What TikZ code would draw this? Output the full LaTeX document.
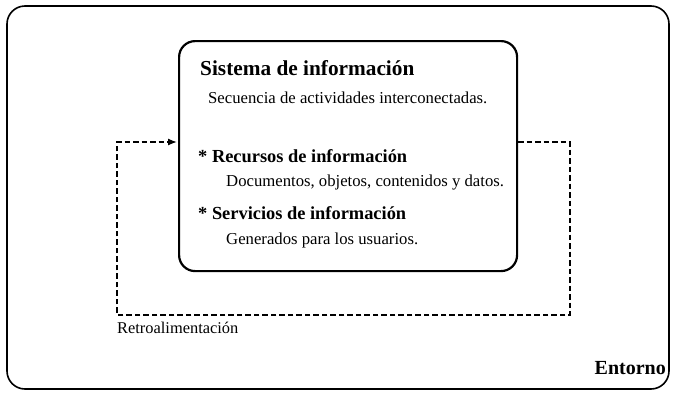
\documentclass[tikz,border=0pt]{standalone}
\usepackage{fontspec}
\setmainfont{Liberation Serif}
\usetikzlibrary{arrows.meta}
\begin{document}
\begin{tikzpicture}[x=1pt,y=-1pt,
  frame/.style={draw=black,line width=1.6pt,rounded corners=18pt},
  sysbox/.style={draw=black,line width=2.2pt,rounded corners=16pt},
  loop/.style={draw=black,line width=1.3pt,dash pattern=on 5.5pt off 3pt},
  title/.style={anchor=base west,inner sep=0pt,font=\bfseries\fontsize{21.3}{24}\selectfont},
  head/.style={anchor=base west,inner sep=0pt,font=\bfseries\fontsize{18.4}{21}\selectfont},
  body/.style={anchor=base west,inner sep=0pt,font=\fontsize{16.7}{19}\selectfont}]
\useasboundingbox (0,0) rectangle (675,394);
\path[frame] (7,6) rectangle (669,389);
\node[minimum width=338pt,minimum height=230pt,anchor=north west,inner sep=0pt,sysbox] (sys) at (178,40) {};
\node[title] (t1) at (200,75) {Sistema de información};
\node[body] (t2) at (208,103) {Secuencia de actividades interconectadas.};
\node[head] (t3) at (198,162) {* Recursos de información};
\node[body] (t4) at (226,186) {Documentos, objetos, contenidos y datos.};
\node[head] (t5) at (198,219) {* Servicios de información};
\node[body] (t6) at (226,244) {Generados para los usuarios.};
\node[anchor=base west,inner sep=0pt,font=\fontsize{16.4}{19}\selectfont] (fb) at (117,333) {Retroalimentación};
\node[anchor=base east,inner sep=0pt,font=\bfseries\fontsize{20}{23}\selectfont] (env) at (666,374) {Entorno};
\coordinate (r1) at (570,142);
\coordinate (r2) at (570,315);
\coordinate (l1) at (117,315);
\coordinate (l2) at (117,142);
\draw[loop,-{Latex[length=9pt,width=7pt]}] (sys.east |- r1) -- (r1) -- (r2) -- (l1) -- (l2) -- ([xshift=-1pt]sys.west |- l2);
\end{tikzpicture}
\end{document}
